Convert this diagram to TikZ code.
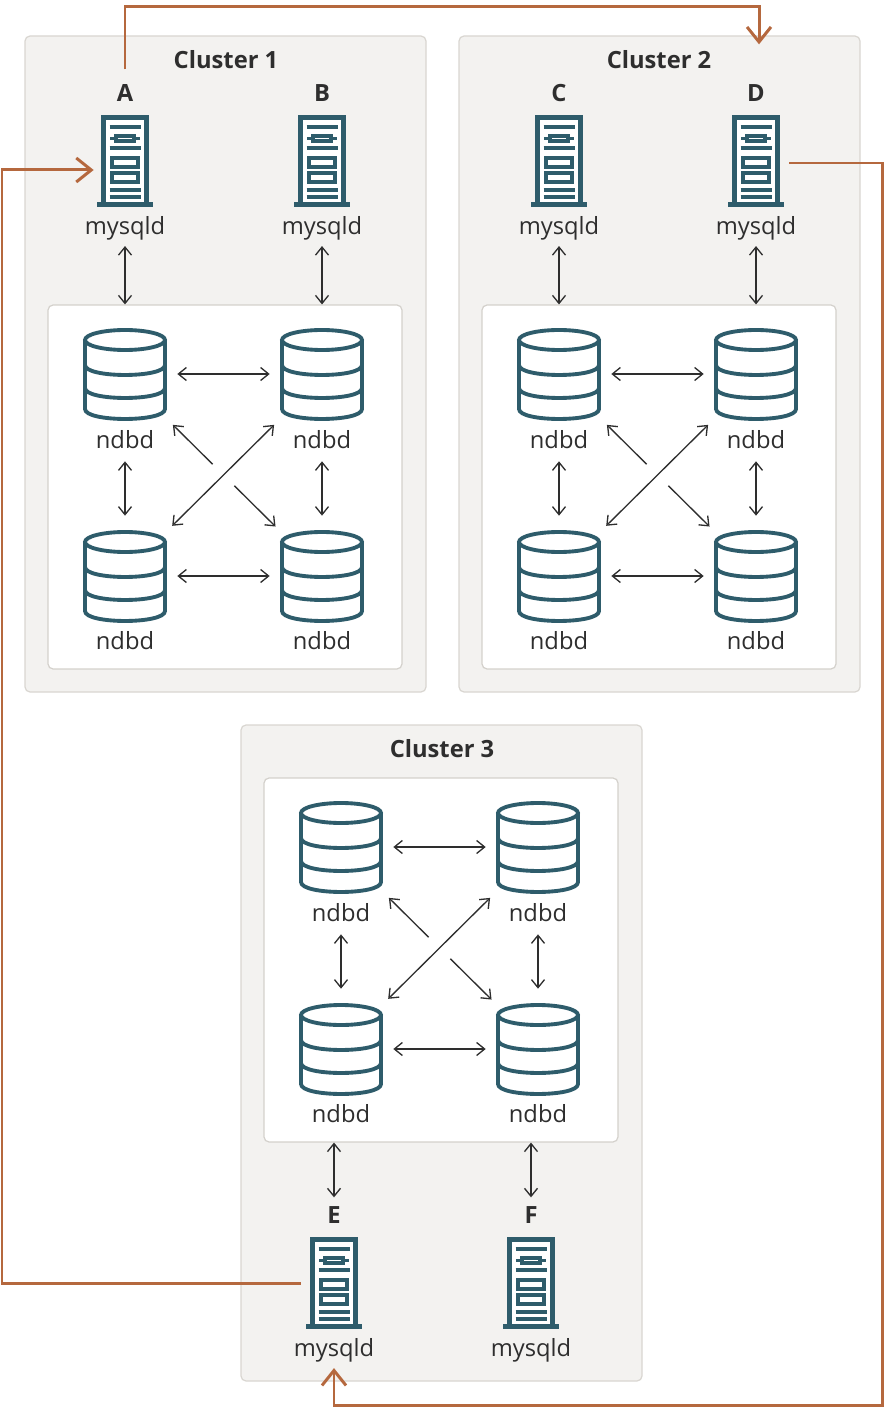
\documentclass[tikz,border=0pt]{standalone}
\usepackage{fontspec}
\setmainfont{Open Sans}
\usetikzlibrary{arrows.meta,calc}

\definecolor{icon}{HTML}{2E5C6B}
\definecolor{clfill}{HTML}{F3F2F0}
\definecolor{clbord}{HTML}{D9D6D1}
\definecolor{inbord}{HTML}{D4D1CC}
\definecolor{orng}{HTML}{B5683E}
\definecolor{ink}{HTML}{2E2E2E}

\tikzset{
  cluster/.style={draw=clbord, fill=clfill, rounded corners=0.1cm, line width=0.7pt},
  inner/.style={draw=inbord, fill=white, rounded corners=0.1cm, line width=0.7pt,
    minimum width=7.08cm, minimum height=7.28cm, inner sep=0pt},
  title/.style={font=\fontsize{13.5}{16}\selectfont\bfseries, text=ink},
  letter/.style={font=\fontsize{13.5}{16}\selectfont\bfseries, text=ink},
  lbl/.style={font=\fontsize{13.5}{16}\selectfont, text=ink},
  sync/.style={draw=ink, line width=0.75pt,
    {Straight Barb[length=0.16cm,width=0.26cm]}-{Straight Barb[length=0.16cm,width=0.26cm]}},
  half/.style={draw=ink, line width=0.75pt, -{Straight Barb[length=0.16cm,width=0.26cm]}},
  link/.style={draw=orng, line width=1.7pt, -{Straight Barb[length=0.3cm,width=0.48cm]}},
  server/.style={minimum width=1.2cm, minimum height=1.9cm, inner sep=0pt,
    path picture={
      \begin{scope}[shift={(path picture bounding box.center)}, color=icon, line width=2.3pt]
        \filldraw[fill=white] (-21.5,41) -- (-21.5,-43.5) -- (21.5,-43.5) -- (21.5,41);
        \draw (-28,43.5) -- (28,43.5);
        \draw[line width=2pt] (-15.5,-34) -- (15.5,-34) (-15.5,-13) -- (15.5,-13)
              (-15.5,29) -- (15.5,29) (-15.5,36) -- (15.5,36);
        \draw[line width=2pt] (-9,-25) rectangle (9,-20) (-15,-22.5) -- (-9,-22.5) (9,-22.5) -- (15,-22.5);
        \draw[line width=2.2pt] (-13,-3) rectangle (13,6) (-13,12) rectangle (13,21);
      \end{scope}}},
  db/.style={minimum width=1.76cm, minimum height=1.88cm, inner sep=0pt,
    path picture={
      \begin{scope}[shift={(path picture bounding box.center)}, color=icon, line width=2.2pt]
        \draw (0,-34) ellipse[x radius=40, y radius=10];
        \draw (-40,-34) -- (-40,35) .. controls (-40,48.3) and (40,48.3) .. (40,35) -- (40,-34);
        \draw (-40,-9) .. controls (-40,4.3) and (40,4.3) .. (40,-9);
        \draw (-40,14) .. controls (-40,27.3) and (40,27.3) .. (40,14);
      \end{scope}}}
}

\begin{document}
\begin{tikzpicture}[x=0.02cm, y=-0.02cm]
  \useasboundingbox (0,0) rectangle (885,1408);

  % Cluster frames and titles
  \draw[cluster] (25,36) rectangle (426,692);
  \draw[cluster] (459,36) rectangle (860,692);
  \draw[cluster] (241,725) rectangle (642,1381);
  \node[title] (title1) at (226,60) {Cluster 1};
  \node[title] (title2) at (659,60) {Cluster 2};
  \node[title] (title3) at (442,749) {Cluster 3};

  % Data nodes of each cluster, with their links
  \foreach \n/\dx/\dy in {1/0/0, 2/434/0, 3/216/473} {
    \begin{scope}[shift={(\dx,\dy)}]
      \node[inner] (in\n) at (225,487) {};
      \node[db] (db\n-a) at (125,374) {};
      \node[db] (db\n-b) at (322,374) {};
      \node[db] (db\n-c) at (125,576) {};
      \node[db] (db\n-d) at (322,576) {};
      \node[lbl] (nd\n-a) at (125,440) {ndbd};
      \node[lbl] (nd\n-b) at (322,440) {ndbd};
      \node[lbl] (nd\n-c) at (125,641) {ndbd};
      \node[lbl] (nd\n-d) at (322,641) {ndbd};
      \draw[sync, shorten <=0.16cm, shorten >=0.16cm] (db\n-a) -- (db\n-b);
      \draw[sync, shorten <=0.16cm, shorten >=0.16cm] (db\n-c) -- (db\n-d);
      \draw[sync, shorten <=0.12cm, shorten >=0.26cm] (nd\n-a) -- (db\n-c);
      \draw[sync, shorten <=0.12cm, shorten >=0.26cm] (nd\n-b) -- (db\n-d);
      \draw[sync, shorten <=0.1cm, shorten >=0.08cm] (db\n-b.south west) -- (db\n-c.north east);
      \draw[half, shorten >=0.1cm] ($(db\n-a.south east)!0.4!(db\n-d.north west)$) -- (db\n-a.south east);
      \draw[half, shorten >=0.06cm] ($(db\n-a.south east)!0.6!(db\n-d.north west)$) -- (db\n-d.north west);
    \end{scope}
  }

  % SQL nodes
  \foreach \s/\L/\x/\y in {a/A/125/161, b/B/322/161, c/C/559/161, d/D/756/161, e/E/334/1283, f/F/531/1283} {
    \node[server] (srv\s) at (\x,\y) {};
    \node[letter] (let\s) at (\x,\y-68) {\L};
    \node[lbl] (my\s) at (\x,\y+67) {mysqld};
  }

  % SQL nodes to data nodes
  \foreach \s/\n in {a/1, b/1, c/2, d/2}
    \draw[sync] (my\s) -- (my\s |- in\n.north);
  \foreach \s in {e, f}
    \draw[sync, shorten <=0.06cm] (let\s) -- (let\s |- in3.south);

  % Replication ring between clusters
  \coordinate (nw) at (2,7);
  \coordinate (se) at (882,1405);
  \draw[link, shorten <=0.18cm, shorten >=0.68cm] (leta) |- ([xshift=0.06cm]nw -| letd) -- ([xshift=0.06cm]letd.north);
  \draw[link, shorten <=0.06cm] ([yshift=-0.04cm]srvd.east) -- ([yshift=-0.04cm]srvd.east -| se) -- (se) -| (mye);
  \draw[link, shorten <=0.06cm, shorten >=0.02cm] (srve) -- (srve -| nw) |- ([yshift=-0.18cm]srva.west);
\end{tikzpicture}
\end{document}
